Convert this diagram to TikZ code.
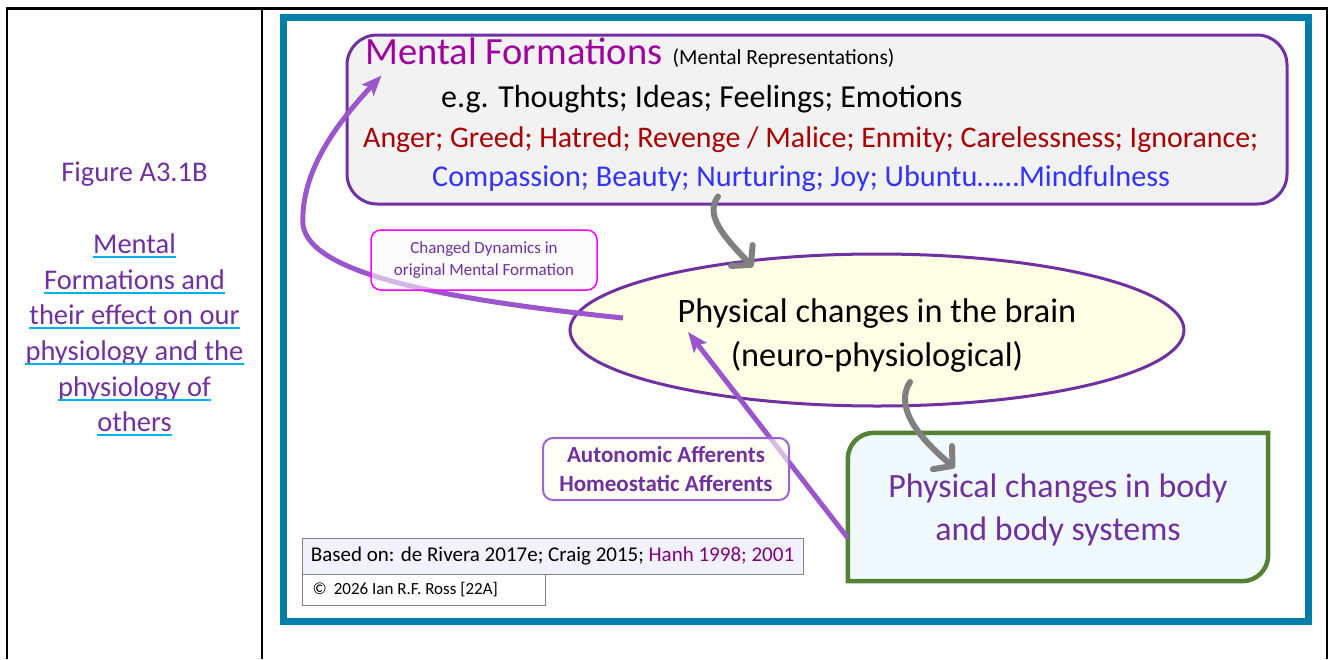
\documentclass[tikz,border=0pt]{standalone}
\usepackage{fontspec}
\setmainfont{Carlito}
\usetikzlibrary{arrows.meta,shapes.geometric,calc}

\definecolor{purp}{RGB}{112,48,160}
\definecolor{mfmag}{RGB}{160,0,160}
\definecolor{vicered}{RGB}{170,0,0}
\definecolor{vblue}{RGB}{51,51,255}
\definecolor{mfgray}{RGB}{242,242,242}
\definecolor{brainfill}{RGB}{255,255,230}
\definecolor{bodyfill}{RGB}{239,249,254}
\definecolor{bodygreen}{RGB}{84,130,53}
\definecolor{frameblue}{RGB}{0,127,170}
\definecolor{arrpurple}{RGB}{155,85,205}
\definecolor{arrgray}{RGB}{128,128,128}
\definecolor{ulcyan}{RGB}{0,176,240}
\definecolor{hanh}{RGB}{128,0,128}
\definecolor{citefill}{RGB}{242,242,255}
\definecolor{boxgray}{RGB}{130,130,130}
\definecolor{dynmag}{RGB}{255,0,255}
\definecolor{dynfill}{RGB}{248,248,248}
\definecolor{affpurple}{RGB}{155,100,210}
\definecolor{afffill}{RGB}{255,255,242}

\newcommand\setfs[2]{\fontsize{#1pt}{#2pt}\selectfont}

\begin{document}
\begin{tikzpicture}[x=1pt,y=-1pt,
  tableline/.style={draw=black,line width=2.5pt},
  captxt/.style={inner sep=0pt,text=purp,font=\setfs{28.5}{36}},
  uline/.style={draw=ulcyan,line width=2pt},
  frameline/.style={draw=frameblue,line width=7pt},
  txt/.style={inner sep=0pt},
  labelbox/.style={rounded corners=10pt,fill opacity=0.6,text opacity=1,align=center},
  citebox/.style={draw=boxgray,line width=1pt,inner sep=0pt},
  purparrow/.style={draw=arrpurple,line width=5pt,
    -{Stealth[length=20pt,width=16pt,inset=4pt]}},
  grayarrow/.style={draw=arrgray,line width=6pt,line cap=round,
    -{Straight Barb[length=13pt,width=30pt,round]}}
]
\useasboundingbox (0,0) rectangle (1331,659);

% table cells
\draw[tableline] (7,659) -- (7,8.5) -- (1327,8.5) -- (1327,659);
\draw[tableline] (262,8.5) -- (262,659);

% caption in the left cell
\node[captxt,anchor=base] (figno) at (134.5,181) {Figure A3.1B};
\node[captxt,anchor=base] (c1) at (134.5,253.3) {Mental};
\node[captxt,anchor=base] (c2) at (134.5,289) {Formations and};
\node[captxt,anchor=base] (c3) at (134.5,324.7) {their effect on our};
\node[captxt,anchor=base] (c4) at (134.5,360.4) {physiology and the};
\node[captxt,anchor=base] (c5) at (134.5,396.1) {physiology of};
\node[captxt,anchor=base] (c6) at (134.5,431.8) {others};
\foreach \n in {c1,c2,c3,c4,c5,c6}
  \draw[uline] ([yshift=-3.5pt]\n.base west) -- ([yshift=-3.5pt]\n.base east);

% blue frame
\draw[frameline] (283,17.5) rectangle (1308.5,621);

% mental formations box
\node[draw=purp,fill=mfgray,line width=3pt,rounded corners=30pt,
      minimum width=940pt,minimum height=169pt] (mf) at (817,119.5) {};
\node[txt,anchor=base west,text=mfmag,font=\setfs{38.5}{46}] (mft) at (365,64) {Mental Formations};
\node[txt,anchor=base west,font=\setfs{21.5}{25}] (mfr) at ([xshift=10pt]mft.base east) {(Mental Representations)};
\node[txt,anchor=base west,font=\setfs{32}{39}] (mfe) at (441,107) {e.g. Thoughts; Ideas; Feelings; Emotions};
\node[txt,anchor=base west,text=vicered,font=\setfs{29.9}{36}] (mfneg) at (363,147)
  {Anger; Greed; Hatred; Revenge / Malice; Enmity; Carelessness; Ignorance;};
\node[txt,anchor=base west,text=vblue,font=\setfs{30.2}{36}] (mfpos) at (432,186)
  {Compassion; Beauty; Nurturing; Joy; Ubuntu……Mindfulness};

% brain ellipse
\node[ellipse,draw=purp,fill=brainfill,line width=3pt,
      minimum width=614pt,minimum height=152pt] (brain) at (877,330) {};
\node[txt,anchor=base,font=\setfs{34.3}{44}] (br1) at (877,322) {Physical changes in the brain};
\node[txt,anchor=base,font=\setfs{34.3}{44}] (br2) at (877,366) {(neuro-physiological)};

% body box: rounded at top left and bottom right
\node[minimum width=420pt,minimum height=148pt,inner sep=0pt] (body) at (1058,507) {};
\draw[draw=bodygreen,fill=bodyfill,line width=4.5pt]
  (body.south west)
  -- ([yshift=-26pt]body.north west)
  .. controls ([yshift=-11.6pt]body.north west) and ([xshift=11.6pt]body.north west) .. ([xshift=26pt]body.north west)
  -- (body.north east)
  -- ([yshift=26pt]body.south east)
  .. controls ([yshift=11.6pt]body.south east) and ([xshift=-11.6pt]body.south east) .. ([xshift=-26pt]body.south east)
  -- cycle;
\node[txt,anchor=base,text=purp,font=\setfs{34}{43}] (bd1) at (1058,497) {Physical changes in body};
\node[txt,anchor=base,text=purp,font=\setfs{34}{43}] (bd2) at (1058,540) {and body systems};

% references
\node[citebox,fill=citefill,minimum width=501pt,minimum height=36pt,font=\setfs{21}{25}]
  (cite) at (552.5,556) {Based on: de Rivera 2017e; Craig 2015; \textcolor{hanh}{Hanh 1998; 2001}};
\node[citebox,fill=white,minimum width=243pt,minimum height=31pt] (copy) at (423.5,589.5) {};
\node[txt,anchor=west,font=\setfs{17}{20}] (copytxt) at ([xshift=11pt]copy.west) {©\hspace{7pt}2026 Ian R.F. Ross [22A]};

% connectors
\draw[grayarrow] ([shift={(-99,-9)}]mf.south)
  .. controls (705,215) and (722,235) .. ([shift={(-124,-63)}]brain.center);
\draw[grayarrow] ([shift={(33,52)}]brain.center)
  .. controls (895,405) and (915,435) .. ([shift={(107,35)}]body.north west);
\draw[purparrow] ([shift={(-254,-12)}]brain.center)
  .. controls (450,300) and (310,275) .. (303,225)
  .. controls (300,170) and (340,120) .. ([shift={(36,42)}]mf.north west);
\draw[purparrow] ([shift={(0,31)}]body.west) -- ([shift={(-189,2)}]brain.center);

% labels on the connectors
\node[labelbox,draw=dynmag,fill=dynfill,line width=1.5pt,text=purp,
      minimum width=226pt,minimum height=60pt,font=\setfs{17}{22}]
  (dyn) at (484,260) {Changed Dynamics in\\original Mental Formation};
\node[labelbox,draw=affpurple,fill=afffill,line width=2pt,text=purp,
      minimum width=246pt,minimum height=62pt,font=\bfseries\setfs{23}{29}]
  (aff) at (666,469) {Autonomic Afferents\\Homeostatic Afferents};
\end{tikzpicture}
\end{document}
